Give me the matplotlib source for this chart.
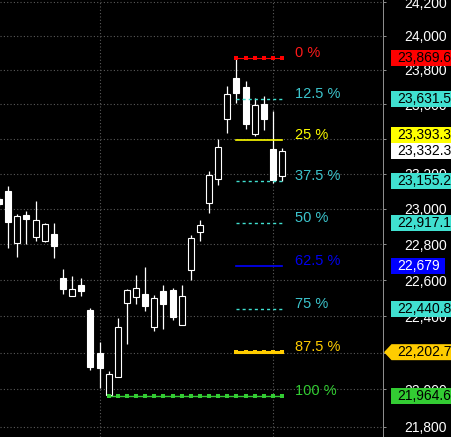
import numpy as np
import matplotlib
matplotlib.use("Agg")
import matplotlib.pyplot as plt
from matplotlib.patches import Rectangle, Polygon
from matplotlib.ticker import FixedLocator, NullLocator, FuncFormatter

plt.rcParams['font.family'] = ['Liberation Sans', 'DejaVu Sans']

# =========================================
# DATA — candles (leftmost one is cut off)
# =========================================
opens  = [23055, 23101, 22808, 22964, 22842, 22820, 22857, 22611, 22514, 22572,
          22435, 22198, 21972, 22069, 22475, 22508, 22523, 22342, 22540, 22545,
          22354, 22658, 22870, 23034, 23168, 23515, 23752, 23700, 23429, 23601,
          23341, 23188]
highs  = [23066, 23130, 22970, 22987, 23043, 22918, 22919, 22662, 22623, 22611,
          22446, 22258, 22100, 22390, 22551, 22628, 22673, 22518, 22572, 22556,
          22572, 22852, 22936, 23215, 23398, 23705, 23869.6, 23734, 23634, 23647,
          23560, 23348]
lows   = [23015, 22780, 22729, 22801, 22820, 22814, 22724, 22523, 22514, 22514,
          22105, 22010, 21964.6, 22069, 22249, 22470, 22431, 22320, 22332, 22381,
          22354, 22602, 22818, 22977, 23135, 23435, 23605, 23458, 23418, 23450,
          23148, 23160]
closes = [23026, 22927, 22959, 22942, 22936, 22914, 22791, 22552, 22551, 22541,
          22124, 22118, 22084, 22341, 22545, 22556, 22458, 22501, 22470, 22398,
          22512, 22835, 22908, 23192, 23351, 23657, 23666, 23486, 23595, 23513,
          23164, 23332.3]

# Fibonacci levels
fib_pcts   = ["0 %", "12.5 %", "25 %", "37.5 %", "50 %", "62.5 %", "75 %", "87.5 %", "100 %"]
fib_prices = [23869.6, 23631.5, 23393.3, 23155.2, 22917.1, 22679.0, 22440.8, 22202.7, 21964.6]
fib_tags   = ["23,869.6", "23,631.5", "23,393.3", "23,155.2", "22,917.1",
              "22,679", "22,440.8", "22,202.7", "21,964.6"]
fib_start  = [26, 26, 26, 26, 26, 26, 26, 26, 12]
fib_end    = 31

last_price = 23332.3
last_tag   = "23,332.3"

y_ticks    = np.arange(21800, 24201, 200)
day_breaks = [11, 30]

# =========================================
# STYLE
# =========================================
TURQ = '#40e0d0'
fib_colors  = ['#ff0000', TURQ, '#ffff00', TURQ, TURQ, '#0000ff', TURQ, '#ffcc00', '#33cc33']
fib_txtcol  = ['#ff1a1a', '#3cc4cc', '#ffff00', '#3cc4cc', '#3cc4cc', '#0000ee', '#3cc4cc', '#ffcc00', '#33cc33']
DASH = (0, (2.2, 2.2))
fib_ls      = ['-', DASH, '-', DASH, DASH, '-', DASH, '-', '-']
fib_lw      = [0.8, 1.0, 1.2, 1.0, 1.0, 1.2, 1.0, 2.2, 1.0]
fib_marker  = ['s', None, None, None, None, None, None, 's', 's']
fib_ms      = [2.2, 0, 0, 0, 0, 0, 0, 3.0, 2.2]

W, H = 452, 437
PLOT_W = 383

fig = plt.figure(figsize=(W / 100, H / 100), dpi=100, facecolor='black')
ax = fig.add_axes([0, 0, PLOT_W / W, 1])
ax.set_facecolor('black')
ax.set_yscale('log')
ax.set_xlim(0.0986, 42.05)
ax.set_ylim(21744, 24212.8)

# grid
ax.yaxis.tick_right()
ax.yaxis.set_major_locator(FixedLocator(y_ticks))
ax.yaxis.set_minor_locator(NullLocator())
ax.yaxis.set_major_formatter(FuncFormatter(lambda v, _: f"{v:,.0f}"))
ax.tick_params(axis='y', which='major', colors='#8c8c8c', labelcolor='white',
               length=2.5, width=0.72, pad=13, labelsize=10)
ax.tick_params(axis='y', which='minor', length=0)
ax.set_xticks([])
ax.grid(axis='y', color='#5a5a5a', linestyle=(0, (1, 2)), linewidth=0.8)
for d in day_breaks:
    ax.axvline(d, color='#5a5a5a', linestyle=(0, (1, 2)), linewidth=0.8, zorder=1)

for side in ['left', 'top', 'bottom']:
    ax.spines[side].set_visible(False)
ax.spines['right'].set_color('#8c8c8c')
ax.spines['right'].set_linewidth(0.72)

# ── CANDLES ──
x = np.arange(len(opens))
body_w = 0.657
ax.vlines(x, lows, highs, color='white', linewidth=0.9, zorder=2)
for i in range(len(opens)):
    o, c = opens[i], closes[i]
    lo, hi = min(o, c), max(o, c)
    face = 'black' if c > o else 'white'
    ax.add_patch(Rectangle((x[i] - body_w / 2, lo), body_w, hi - lo,
                           facecolor=face, edgecolor='white', linewidth=0.8, zorder=3))

# ── FIB LINES ──
label_x = 32.4
for k in range(len(fib_prices)):
    xs = np.arange(fib_start[k], fib_end + 1)
    ax.plot(xs, [fib_prices[k]] * len(xs), color=fib_colors[k], linestyle=fib_ls[k],
            linewidth=fib_lw[k], marker=fib_marker[k], markersize=fib_ms[k],
            markeredgewidth=0, zorder=4)
    ax.annotate(fib_pcts[k], xy=(label_x, fib_prices[k]), xytext=(0, 3.6),
                textcoords='offset points', ha='left', va='center',
                color=fib_txtcol[k], fontsize=10.5, zorder=5)

# ── PRICE TAGS ON THE AXIS ──
def ypix(price):
    return ax.transData.transform((0, price))[1]

BOX_H = 16
BOX_X = 391.5
TXT_X = 397

def tag(y, text, face, tcolor, width=70, arrow=False):
    if arrow:
        pts = [(384, y), (BOX_X, y + BOX_H / 2), (W + 5, y + BOX_H / 2),
               (W + 5, y - BOX_H / 2), (BOX_X, y - BOX_H / 2)]
        fig.add_artist(Polygon([(px / W, py / H) for px, py in pts], closed=True,
                               facecolor=face, edgecolor='none',
                               transform=fig.transFigure, zorder=5))
    else:
        fig.add_artist(Rectangle((BOX_X / W, (y - BOX_H / 2) / H), width / W, BOX_H / H,
                                 facecolor=face, edgecolor='none',
                                 transform=fig.transFigure, zorder=5))
    fig.text(TXT_X / W, y / H, text, color=tcolor, fontsize=10,
             ha='left', va='center', zorder=6)

y_last = ypix(last_price)
for k in range(len(fib_prices)):
    y = ypix(fib_prices[k])
    # push a tag out of the way of the last-price tag
    if abs(y - y_last) < BOX_H:
        y = y_last + BOX_H * (1 if y > y_last else -1)
    tcol = 'white' if k == 5 else 'black'
    width = 53.5 if k == 5 else 70
    tag(y, fib_tags[k], fib_colors[k], tcol, width=width, arrow=(k == 7))

tag(y_last, last_tag, 'white', 'black')

plt.savefig("out.png", dpi=100, facecolor='black')
